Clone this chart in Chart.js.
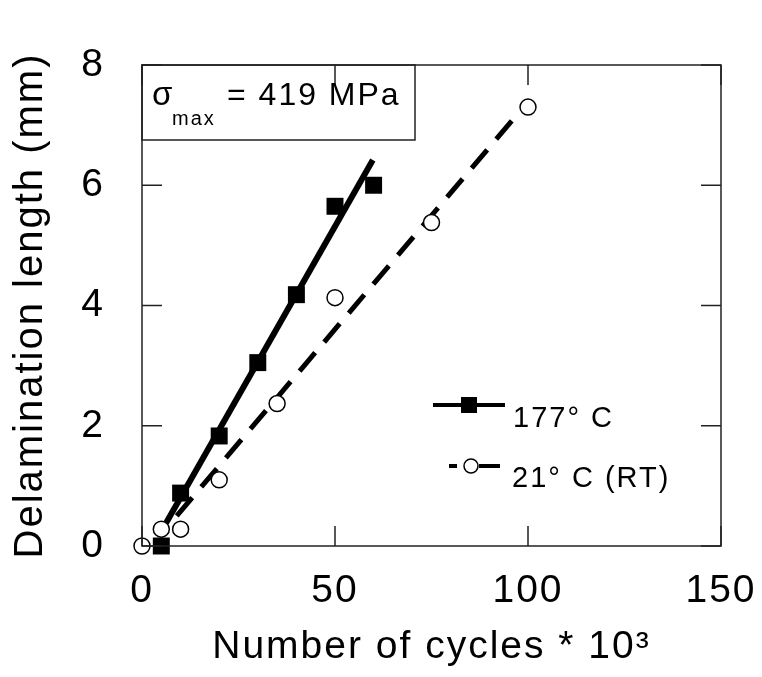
<!DOCTYPE html>
<html>
<head>
  <meta charset="UTF-8">
  <title>Delamination length vs cycles</title>
  <script src="https://cdn.jsdelivr.net/npm/chart.js"></script>
  <style>
    body { margin: 0; background: #fff; }
  </style>
</head>
<body>
  <canvas id="delamChart" width="762" height="677"></canvas>

  <script>
    // measured points, 177 C (filled squares)
    const hotCycles = [5, 10, 20, 30, 40, 50, 60];
    const hotLength = [0, 0.88, 1.83, 3.05, 4.18, 5.65, 6.0];
    // measured points, 21 C room temp (open circles)
    const rtCycles = [0, 5, 10, 20, 35, 50, 75, 100];
    const rtLength = [0, 0.28, 0.28, 1.1, 2.37, 4.13, 5.38, 7.3];
    // fitted lines, end points
    const hotFitCycles = [6.2, 59.8];
    const hotFitLength = [0.38, 6.42];
    const rtFitCycles = [9, 97.5];
    const rtFitLength = [0.5, 7.2];

    const xTicks = [0, 50, 100, 150];
    const yTicks = [0, 2, 4, 6, 8];
    const seriesLabels = ['177\u00B0 C', '21\u00B0 C (RT)'];

    const FONT = "'Liberation Sans', Arial, Helvetica, sans-serif";
    const pts = (xs, ys) => xs.map((x, i) => ({ x: x, y: ys[i] }));

    // wider tracking like the scanned figure
    const spacing = {
      id: 'spacing',
      beforeUpdate(chart) { chart.ctx.letterSpacing = '2px'; },
      beforeDraw(chart) { chart.ctx.letterSpacing = '2px'; }
    };

    // frame with inward ticks on all four sides
    const frame = {
      id: 'frame',
      afterDatasetsDraw(chart) {
        const { ctx, chartArea: a, scales } = chart;
        const len = 20;
        ctx.save();
        ctx.strokeStyle = '#222';
        ctx.lineWidth = 1.5;
        ctx.strokeRect(a.left, a.top, a.right - a.left, a.bottom - a.top);
        ctx.beginPath();
        scales.x.ticks.forEach(t => {
          const px = scales.x.getPixelForValue(t.value);
          ctx.moveTo(px, a.bottom); ctx.lineTo(px, a.bottom - len);
          ctx.moveTo(px, a.top); ctx.lineTo(px, a.top + len);
        });
        scales.y.ticks.forEach(t => {
          const py = scales.y.getPixelForValue(t.value);
          ctx.moveTo(a.left, py); ctx.lineTo(a.left + len, py);
          ctx.moveTo(a.right, py); ctx.lineTo(a.right - len, py);
        });
        ctx.stroke();
        ctx.restore();
      },
      afterDraw(chart) {
        const { ctx, chartArea: a } = chart;
        ctx.save();
        ctx.letterSpacing = '2px';
        ctx.fillStyle = '#000';

        // stress box, top left
        ctx.lineWidth = 1.5;
        ctx.strokeStyle = '#222';
        ctx.strokeRect(a.left, a.top, 273, 75);
        ctx.textBaseline = 'alphabetic';
        ctx.font = '33px ' + FONT;
        ctx.fillText('\u03C3', a.left + 10, a.top + 40);
        ctx.font = '20px ' + FONT;
        ctx.fillText('max', a.left + 30, a.top + 60);
        ctx.font = '32px ' + FONT;
        ctx.fillText('= 419 MPa', a.left + 85, a.top + 40);

        // legend
        const lx = a.left + 291, ly = a.top + 340;
        ctx.strokeStyle = '#000';
        ctx.lineWidth = 4;
        ctx.beginPath();
        ctx.moveTo(lx, ly); ctx.lineTo(lx + 72, ly);
        ctx.stroke();
        ctx.fillRect(lx + 28, ly - 8, 16, 16);
        ctx.font = '29px ' + FONT;
        ctx.fillText(seriesLabels[0], lx + 80, ly + 22);

        const ly2 = ly + 61;
        ctx.beginPath();
        ctx.moveTo(lx + 16, ly2); ctx.lineTo(lx + 24, ly2);
        ctx.moveTo(lx + 46, ly2); ctx.lineTo(lx + 67, ly2);
        ctx.stroke();
        ctx.lineWidth = 1.5;
        ctx.fillStyle = '#fff';
        ctx.beginPath();
        ctx.arc(lx + 38, ly2, 7, 0, Math.PI * 2);
        ctx.fill();
        ctx.stroke();
        ctx.fillStyle = '#000';
        ctx.fillText(seriesLabels[1], lx + 79, ly2 + 21);
        ctx.restore();
      }
    };

    const ctx = document.getElementById('delamChart').getContext('2d');
    new Chart(ctx, {
      type: 'scatter',
      data: {
        datasets: [
          {
            label: seriesLabels[1],
            data: pts(rtCycles, rtLength),
            pointStyle: 'circle',
            pointRadius: 8,
            pointBackgroundColor: '#fff',
            pointBorderColor: '#000',
            pointBorderWidth: 1.5,
            showLine: false,
            clip: false,
            order: 0
          },
          {
            label: seriesLabels[0],
            data: pts(hotCycles, hotLength),
            pointStyle: 'rect',
            pointRadius: 12,
            pointBackgroundColor: '#000',
            pointBorderColor: '#000',
            pointBorderWidth: 0,
            showLine: false,
            clip: false,
            order: 1
          },
          {
            label: 'fit 177',
            data: pts(hotFitCycles, hotFitLength),
            showLine: true,
            borderColor: '#000',
            borderWidth: 6,
            pointRadius: 0,
            order: 2
          },
          {
            label: 'fit RT',
            data: pts(rtFitCycles, rtFitLength),
            showLine: true,
            borderColor: '#000',
            borderWidth: 5,
            borderDash: [24, 14],
            pointRadius: 0,
            order: 3
          }
        ]
      },
      options: {
        responsive: false,
        animation: false,
        layout: { padding: { top: 65, right: 41, left: 0, bottom: 0 } },
        plugins: {
          legend: { display: false },
          tooltip: { enabled: false }
        },
        scales: {
          x: {
            type: 'linear',
            min: 0,
            max: 150,
            afterBuildTicks: s => { s.ticks = xTicks.map(v => ({ value: v })); },
            afterFit: s => { s.height = 131; s.paddingLeft = 0; s.paddingRight = 0; },
            grid: { display: false },
            border: { display: false },
            ticks: { color: '#000', padding: 14, font: { family: FONT, size: 39 } },
            title: {
              display: true,
              text: 'Number of cycles * 10\u00B3',
              color: '#000',
              font: { family: FONT, size: 39 },
              padding: { top: 0, bottom: 6 }
            }
          },
          y: {
            min: 0,
            max: 8,
            afterBuildTicks: s => { s.ticks = yTicks.map(v => ({ value: v })); },
            afterFit: s => { s.width = 142; s.paddingTop = 0; s.paddingBottom = 0; },
            grid: { display: false },
            border: { display: false },
            ticks: { color: '#000', padding: 29, font: { family: FONT, size: 39 } },
            title: {
              display: true,
              text: 'Delamination length (mm)',
              color: '#000',
              font: { family: FONT, size: 40 },
              padding: { top: 7, bottom: 0 }
            }
          }
        }
      },
      plugins: [spacing, frame]
    });
  </script>
</body>
</html>
